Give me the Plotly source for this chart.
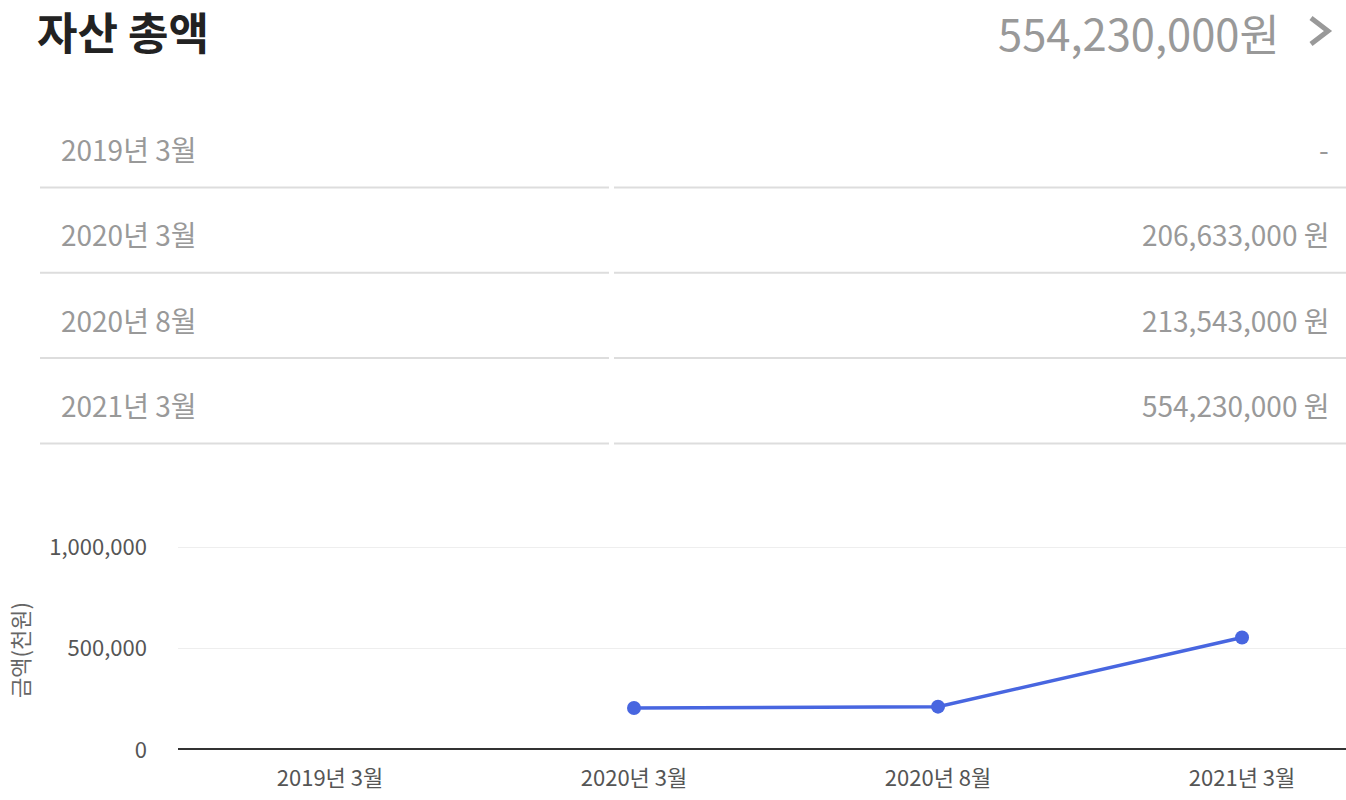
import plotly.graph_objects as go

# Data (amounts in thousand won)
periods = ['2019년 3월', '2020년 3월', '2020년 8월', '2021년 3월']
amounts = [None, 206633, 213543, 554230]
total_label = '554,230,000원'
y_ticks = [0, 500000, 1000000]
y_tick_labels = ['0', '500,000', '1,000,000']

W, H = 1346, 800
FONT = 'Noto Sans CJK KR'

def px(x):
    return x / W

def py(y):
    return 1 - y / H

fig = go.Figure()

# Line chart
fig.add_trace(go.Scatter(
    x=periods, y=amounts, mode='lines+markers',
    line=dict(color='#4866e0', width=3.5),
    marker=dict(color='#4866e0', size=14),
    connectgaps=False, showlegend=False, hoverinfo='x+y'))

# Header
annotations = [
    dict(text='<b>자산 총액</b>', x=px(35), y=py(31), xref='paper', yref='paper',
         xanchor='left', yanchor='middle', showarrow=False,
         font=dict(family=FONT, size=44, color='#222222')),
    dict(text=total_label, x=px(1282), y=py(32), xref='paper', yref='paper',
         xanchor='right', yanchor='middle', showarrow=False,
         font=dict(family=FONT, size=43.5, color='#999999')),
]

# chevron next to the total
shapes = [dict(type='path', xref='paper', yref='paper',
               path=f'M {px(1311)} {py(18)} L {px(1328)} {py(31)} L {px(1311)} {py(44)}',
               line=dict(color='#999999', width=5))]

# Table rows
row_h = 85.3
for i, (p, a) in enumerate(zip(periods, amounts)):
    yc = 149 + i * row_h
    val = '-' if a is None else f'{a * 1000:,} 원'
    annotations.append(dict(text=p, x=px(59), y=py(yc), xref='paper', yref='paper',
                            xanchor='left', yanchor='middle', showarrow=False,
                            font=dict(family=FONT, size=28, color='#999999')))
    annotations.append(dict(text=val, x=px(1331), y=py(yc), xref='paper', yref='paper',
                            xanchor='right', yanchor='middle', showarrow=False,
                            font=dict(family=FONT, size=28, color='#999999')))
    yl = 187.5 + i * row_h
    for x0, x1 in [(40, 609), (614, 1346)]:
        shapes.append(dict(type='line', xref='paper', yref='paper',
                           x0=px(x0), x1=px(x1), y0=py(yl), y1=py(yl),
                           line=dict(color='#dddddd', width=2)))

# Axis baseline
shapes.append(dict(type='line', xref='paper', yref='paper',
                   x0=px(178), x1=1, y0=py(749), y1=py(749),
                   line=dict(color='#333333', width=2)))

# Y axis title
annotations.append(dict(text='금액(천원)', x=px(19), y=py(650), xref='paper', yref='paper',
                        xanchor='center', yanchor='middle', showarrow=False, textangle=-90,
                        font=dict(family=FONT, size=22, color='#666666')))

fig.update_layout(
    width=W, height=H,
    margin=dict(l=0, r=0, t=0, b=0, autoexpand=False),
    paper_bgcolor='white', plot_bgcolor='white',
    font=dict(family=FONT),
    annotations=annotations,
    shapes=shapes,
    xaxis=dict(domain=[px(178), 1], type='category', range=[-0.5, 3.342],
               showgrid=False, zeroline=False, showline=False, automargin=False,
               tickfont=dict(family=FONT, size=22, color='#555555'),
               ticks='', ticklabelstandoff=13, fixedrange=True),
    # range goes a bit past 1,000,000 so its grid line is drawn
    yaxis=dict(domain=[py(750), py(542)], range=[0, 1025000],
               tickvals=y_ticks, ticktext=y_tick_labels,
               showgrid=True, gridcolor='#eeeeee', gridwidth=1,
               zeroline=False, showline=False, automargin=False,
               tickfont=dict(family=FONT, size=22, color='#555555'),
               ticks='', ticklabelstandoff=30, fixedrange=True),
)

fig.write_html('out.html', config={'displayModeBar': False},
               post_script="document.body.style.margin='0';")
